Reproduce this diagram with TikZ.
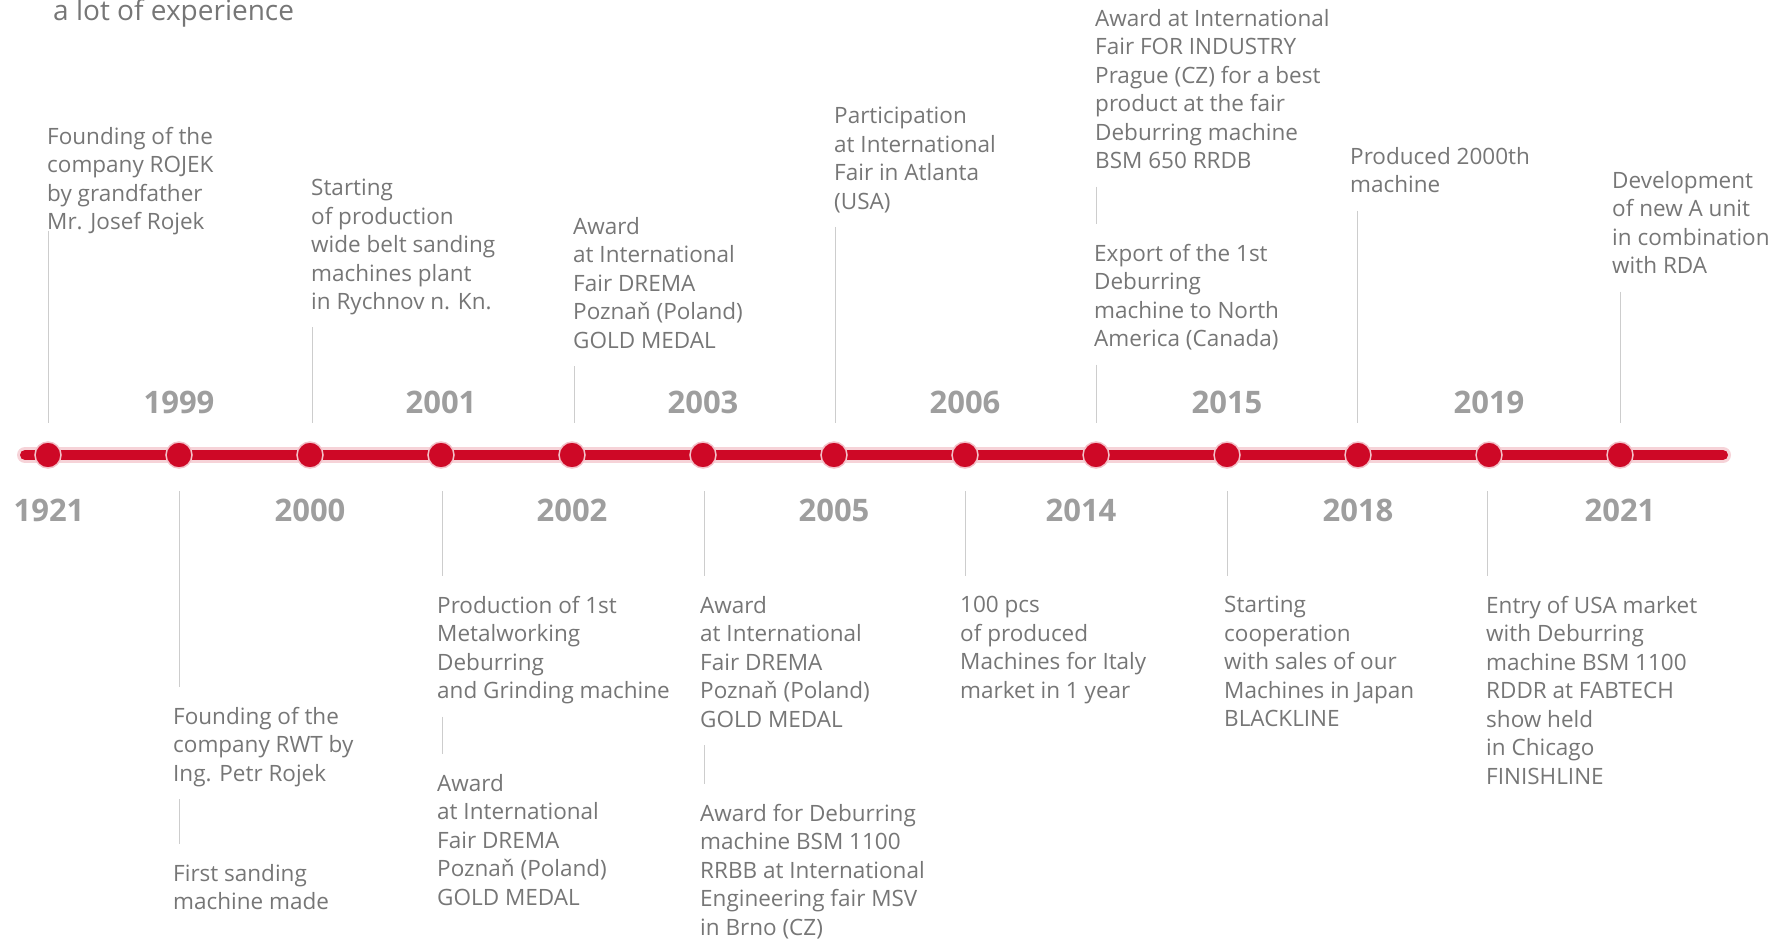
\documentclass[tikz,border=0pt]{standalone}
\usepackage{fontspec}
\setmainfont{Open Sans}
\usepackage{tikz}
\definecolor{rojred}{RGB}{206,8,38}
\definecolor{txtgray}{RGB}{118,118,118}
\definecolor{yeargray}{RGB}{158,158,158}
\definecolor{stemgray}{RGB}{205,205,205}

\begin{document}
\begin{tikzpicture}[x=1pt,y=-1pt,
  txt/.style={anchor=north west, inner sep=0pt, align=left, text=txtgray,
    font=\fontsize{22.5}{28.5}\selectfont,
    execute at begin node=\strut, execute at end node=\strut},
  yr/.style={inner sep=0pt, text=yeargray, font=\fontsize{31}{31}\selectfont\bfseries},
  dot/.style={circle, fill=rojred, draw=rojred!25, line width=1.5pt, minimum size=26pt, inner sep=0pt},
  up/.style={draw=stemgray, line width=1pt, shorten <=9pt},
  down/.style={draw=stemgray, line width=1pt, shorten >=20pt},
  link/.style={draw=stemgray, line width=1pt, shorten <=9pt, shorten >=20pt}]
\useasboundingbox (0,0) rectangle (1790,938);
%\draw[help lines,step=100] (0,0) grid (1790,938);
\node (title) [anchor=base west, inner sep=0pt, text=txtgray, font=\fontsize{28}{34}\selectfont] at (53,20) {a lot of experience};

% time line
\coordinate (ls) at (25,455);
\coordinate (le) at (1723,455);
\draw[rojred!18, line width=16pt, line cap=round] (ls) -- (le);
\draw[rojred, line width=10pt, line cap=round] (ls) -- (le);

\node (d0) [dot] at (48,455) {};
\node (d1) [dot] at (179,455) {};
\node (d2) [dot] at (310,455) {};
\node (d3) [dot] at (441,455) {};
\node (d4) [dot] at (572,455) {};
\node (d5) [dot] at (703,455) {};
\node (d6) [dot] at (834,455) {};
\node (d7) [dot] at (965,455) {};
\node (d8) [dot] at (1096,455) {};
\node (d9) [dot] at (1227,455) {};
\node (d10) [dot] at (1358,455) {};
\node (d11) [dot] at (1489,455) {};
\node (d12) [dot] at (1620,455) {};

% years
\node (y0) [yr] at (49,510) {1921};
\node (y1) [yr] at (179,402) {1999};
\node (y2) [yr] at (310,510) {2000};
\node (y3) [yr] at (441,402) {2001};
\node (y4) [yr] at (572,510) {2002};
\node (y5) [yr] at (703,402) {2003};
\node (y6) [yr] at (834,510) {2005};
\node (y7) [yr] at (965,402) {2006};
\node (y8) [yr] at (1081,510) {2014};
\node (y9) [yr] at (1227,402) {2015};
\node (y10) [yr] at (1358,510) {2018};
\node (y11) [yr] at (1489,402) {2019};
\node (y12) [yr] at (1620,510) {2021};

% above the line
\node (t0) [txt] at (47,127) {Founding of the\\company ROJEK\\by grandfather\\Mr. Josef Rojek};
\node (t2) [txt] at (311,179) {Starting\\of production\\wide belt sanding\\machines plant\\in Rychnov n. Kn.};
\node (t4) [txt] at (573,217) {Award\\at International\\Fair DREMA\\Poznaň (Poland)\\GOLD MEDAL};
\node (t6) [txt] at (834,107) {Participation\\at International\\Fair in Atlanta\\(USA)};
\node (t8a) [txt] at (1095,9) {Award at International\\Fair FOR INDUSTRY\\Prague (CZ) for a best\\product at the fair\\Deburring machine\\BSM 650 RRDB};
\node (t8b) [txt] at (1094,244) {Export of the 1st\\Deburring\\machine to North\\America (Canada)};
\node (t10) [txt] at (1350,147) {Produced 2000th\\machine};
\node (t12) [txt] at (1612,171) {Development\\of new A unit\\in combination\\with RDA};

% below the line
\node (t1a) [txt] at (173,707) {Founding of the\\company RWT by\\Ing. Petr Rojek};
\node (t1b) [txt] at (173,864) {First sanding\\machine made};
\node (t3a) [txt] at (437,596) {Production of 1st\\Metalworking\\Deburring\\and Grinding machine};
\node (t3b) [txt] at (437,774) {Award\\at International\\Fair DREMA\\Poznaň (Poland)\\GOLD MEDAL};
\node (t5a) [txt] at (700,596) {Award\\at International\\Fair DREMA\\Poznaň (Poland)\\GOLD MEDAL};
\node (t5b) [txt] at (700,804) {Award for Deburring\\machine BSM 1100\\RRBB at International\\Engineering fair MSV\\in Brno (CZ)};
\node (t7) [txt] at (960,596) {100 pcs\\of produced\\Machines for Italy\\market in 1 year};
\node (t9) [txt] at (1224,596) {Starting\\cooperation\\with sales of our\\Machines in Japan\\BLACKLINE};
\node (t11) [txt] at (1486,596) {Entry of USA market\\with Deburring\\machine BSM 1100\\RDDR at FABTECH\\show held\\in Chicago\\FINISHLINE};

\coordinate (a0) at (48,423);
\coordinate (a2) at (312,423);
\coordinate (a4) at (574,423);
\coordinate (a6) at (835,423);
\coordinate (a8) at (1096,423);
\coordinate (a10) at (1357,423);
\coordinate (a12) at (1620,423);
\coordinate (b1) at (179,491);
\coordinate (b3) at (442,491);
\coordinate (b5) at (704,491);
\coordinate (b7) at (965,491);
\coordinate (b9) at (1227,491);
\coordinate (b11) at (1487,491);

\path
(t0.south -| a0) edge [up, shorten <=-8pt] (a0)
(t2.south -| a2) edge [up] (a2)
(t4.south -| a4) edge [up] (a4)
(t6.south -| a6) edge [up] (a6)
(t8b.south -| a8) edge [up] (a8)
(t10.south -| a10) edge [up] (a10)
(t12.south -| a12) edge [up] (a12)
(b1) edge [down] (b1 |- t1a.north)
(b3) edge [down] (b3 |- t3a.north)
(b5) edge [down] (b5 |- t5a.north)
(b7) edge [down] (b7 |- t7.north)
(b9) edge [down] (b9 |- t9.north)
(b11) edge [down] (b11 |- t11.north)
(t8a.south -| a8) edge [link] (a8 |- t8b.north)
(t1a.south -| b1) edge [link] (b1 |- t1b.north)
(t3a.south -| b3) edge [link] (b3 |- t3b.north)
(t5a.south -| b5) edge [link] (b5 |- t5b.north);
\end{tikzpicture}
\end{document}
